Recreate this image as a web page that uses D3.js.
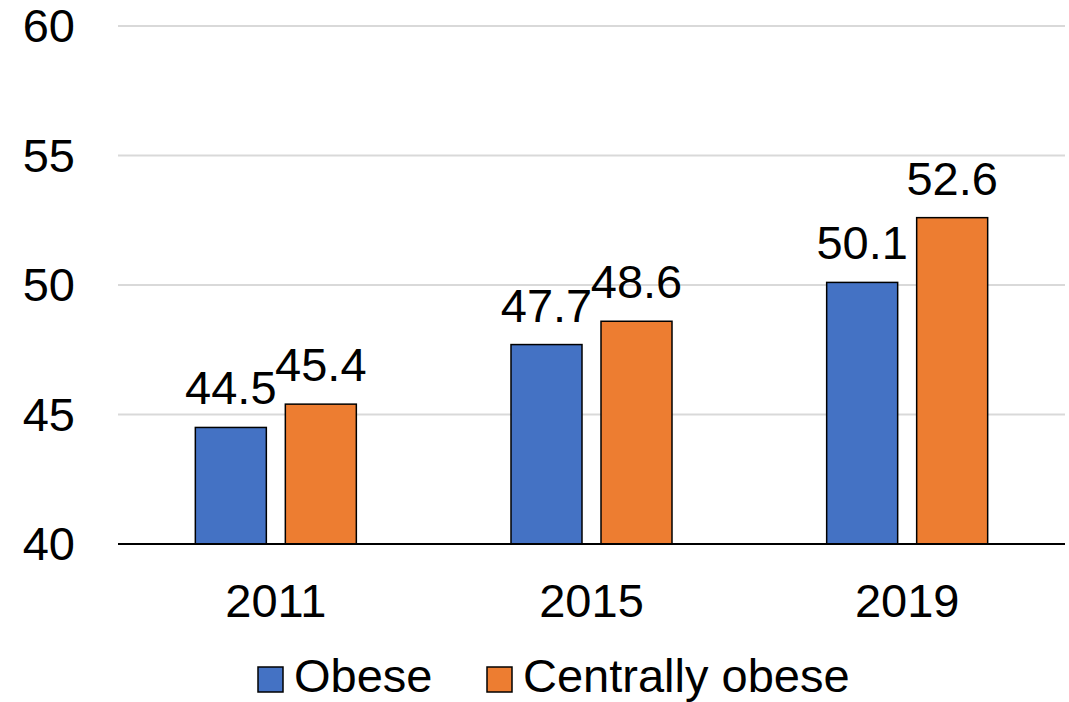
<!DOCTYPE html>
<html lang="en">
<head>
  <meta charset="UTF-8">
  <title>Obese vs centrally obese</title>
  <script src="https://d3js.org/d3.v7.min.js"></script>
  <style>
    body { margin: 0; background: #fff; font-family: 'Liberation Sans', Arial, sans-serif; }
  </style>
</head>
<body>
  <div id="chart"></div>
  <script>
    const years = ["2011", "2015", "2019"];
    const obese = [44.5, 47.7, 50.1];
    const centrallyObese = [45.4, 48.6, 52.6];
    const yTicks = [40, 45, 50, 55, 60];

    const series = [
      { name: "Obese", values: obese, color: "#4472C4" },
      { name: "Centrally obese", values: centrallyObese, color: "#ED7D31" }
    ];

    const W = 1069, H = 702;
    const plotLeft = 118, plotRight = 1065, plotTop = 26, plotBottom = 544;
    const fontSize = 47;

    const svg = d3.select("#chart").append("svg")
      .attr("width", W).attr("height", H)
      .style("font-family", "'Liberation Sans', Arial, sans-serif");

    const x = d3.scaleBand().domain(years).range([plotLeft, plotRight]).paddingInner(0).paddingOuter(0);
    const y = d3.scaleLinear().domain([40, 60]).range([plotBottom, plotTop]);

    // two bars of 71px with a 19px gap, centred in each year band
    const barW = 71, gap = 19;
    const xs = d3.scaleBand().domain(series.map(s => s.name))
      .range([x.bandwidth() / 2 - barW - gap / 2, x.bandwidth() / 2 + barW + gap / 2])
      .paddingInner(gap / (barW + gap)).paddingOuter(0);

    // gridlines
    svg.append("g")
      .selectAll("line")
      .data(yTicks.filter(t => t > 40))
      .join("line")
      .attr("x1", plotLeft).attr("x2", plotRight)
      .attr("y1", d => y(d)).attr("y2", d => y(d))
      .attr("stroke", "#d9d9d9").attr("stroke-width", 2);

    // y labels
    svg.append("g")
      .selectAll("text")
      .data(yTicks)
      .join("text")
      .attr("x", 75).attr("y", d => y(d))
      .attr("dy", "0.35em")
      .attr("text-anchor", "end")
      .attr("font-size", fontSize)
      .attr("fill", "#000")
      .text(d => d);

    // bars + value labels
    series.forEach(s => {
      const rows = years.map((yr, i) => ({ yr, v: s.values[i] }));
      const g = svg.append("g");
      g.selectAll("rect")
        .data(rows)
        .join("rect")
        .attr("x", d => x(d.yr) + xs(s.name))
        .attr("y", d => y(d.v))
        .attr("width", xs.bandwidth())
        .attr("height", d => y(40) - y(d.v))
        .attr("fill", s.color)
        .attr("stroke", "#000")
        .attr("stroke-width", 1.5);

      g.selectAll("text")
        .data(rows)
        .join("text")
        .attr("x", d => x(d.yr) + xs(s.name) + xs.bandwidth() / 2)
        .attr("y", d => y(d.v) - 23)
        .attr("text-anchor", "middle")
        .attr("font-size", fontSize)
        .attr("fill", "#000")
        .text(d => d.v.toFixed(1));
    });

    // baseline
    svg.append("line")
      .attr("x1", plotLeft).attr("x2", plotRight)
      .attr("y1", y(40)).attr("y2", y(40))
      .attr("stroke", "#000").attr("stroke-width", 2);

    // x labels
    svg.append("g")
      .selectAll("text")
      .data(years)
      .join("text")
      .attr("x", d => x(d) + x.bandwidth() / 2)
      .attr("y", 617)
      .attr("text-anchor", "middle")
      .attr("font-size", fontSize)
      .attr("fill", "#000")
      .text(d => d);

    // legend
    const legendX = [258, 487];
    const leg = svg.append("g");
    series.forEach((s, i) => {
      leg.append("rect")
        .attr("x", legendX[i]).attr("y", 667)
        .attr("width", 25).attr("height", 25)
        .attr("fill", s.color)
        .attr("stroke", "#000").attr("stroke-width", 1.5);
      leg.append("text")
        .attr("x", legendX[i] + 36).attr("y", 692)
        .attr("font-size", 47)
        .attr("fill", "#000")
        .text(s.name);
    });
  </script>
</body>
</html>
